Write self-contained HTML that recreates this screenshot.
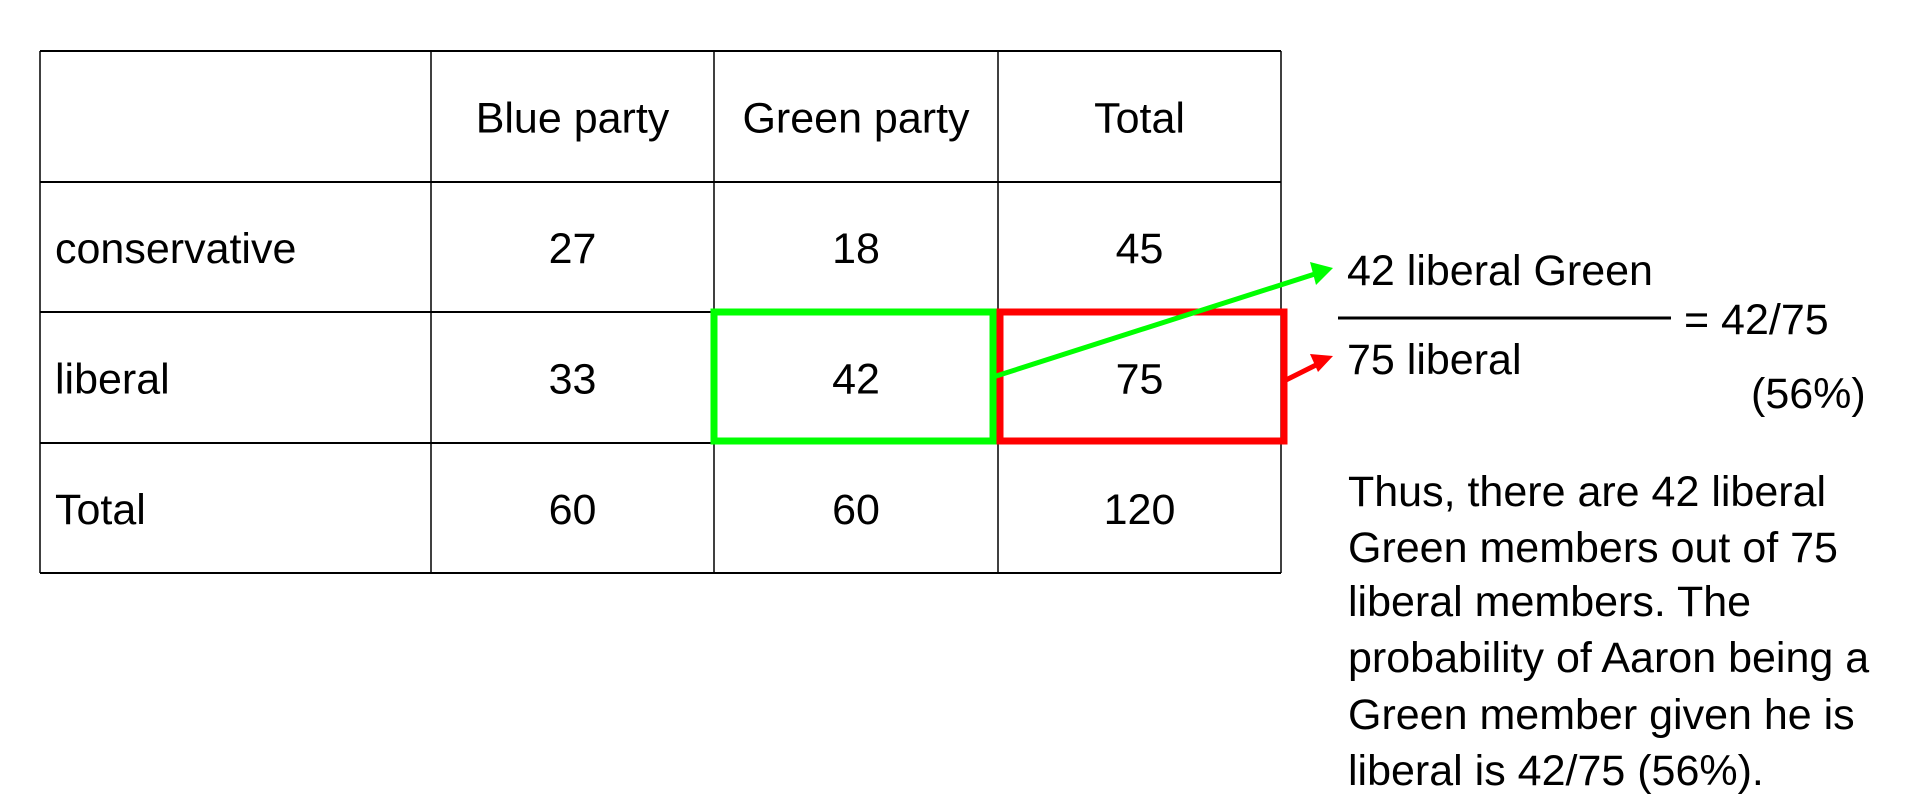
<!DOCTYPE html>
<html><head><meta charset="utf-8"><style>
html,body{margin:0;padding:0;background:#fff;width:1920px;height:800px;overflow:hidden}
svg{position:absolute;left:0;top:0}
text{font-family:"Liberation Sans",sans-serif;font-size:43px;fill:#000}
</style></head><body>
<svg id="s" width="1920" height="800">
<g id="tbl"></g>
<rect x="714" y="312" width="279" height="129" fill="none" stroke="#00ff00" stroke-width="7"/>
<rect x="1000" y="312" width="284" height="129" fill="none" stroke="#ff0000" stroke-width="7"/>
<line x1="993" y1="377" x2="1318" y2="273" stroke="#00ff00" stroke-width="5"/>
<polygon points="1333,268 1310,262 1316,285" fill="#00ff00"/>
<line x1="1286" y1="380" x2="1318" y2="364" stroke="#ff0000" stroke-width="5"/>
<polygon points="1333,356 1310,354 1318,372" fill="#ff0000"/>
<text x="1347" y="285">42 liberal Green</text>
<line x1="1338" y1="318" x2="1671" y2="318" stroke="#000" stroke-width="3"/>
<text x="1684" y="334">= 42/75</text>
<text x="1347" y="374">75 liberal</text>
<text x="1751" y="408">(56%)</text>
<g>
<text x="1348" y="506">Thus, there are 42 liberal</text>
<text x="1348" y="562">Green members out of 75</text>
<text x="1348" y="616">liberal members. The</text>
<text x="1348" y="672">probability of Aaron being a</text>
<text x="1348" y="729">Green member given he is</text>
<text x="1348" y="785">liberal is 42/75 (56%).</text>
</g>
</svg>
<script>
const headers = ["", "Blue party", "Green party", "Total"];
const rowLabels = ["conservative", "liberal", "Total"];
const blueVals = [27, 33, 60];
const greenVals = [18, 42, 60];
const totalVals = [45, 75, 120];
const NS="http://www.w3.org/2000/svg";
const g=document.getElementById('tbl');
const colX=[40,431,714,998,1281];
const rowY=[51,182,312,443,573];
function mk(t,a){const e=document.createElementNS(NS,t);for(const k in a)e.setAttribute(k,a[k]);g.appendChild(e);return e;}
function cellText(txt,c,r,left,name){
  const y=(rowY[r]+rowY[r+1])/2+16;
  const e=left?mk('text',{x:colX[c]+15,y:y}):mk('text',{x:(colX[c]+colX[c+1])/2,y:y,'text-anchor':'middle'});
  e.textContent=txt;
  
  
}
colX.forEach((x,i)=>{const l=mk('line',{x1:x,y1:rowY[0],x2:x,y2:rowY[4],stroke:'#000','stroke-width':1.5});

});
rowY.forEach((y,i)=>{const l=mk('line',{x1:colX[0],y1:y,x2:colX[4],y2:y,stroke:'#000','stroke-width':2});

});
headers.forEach((h,c)=>{if(h)cellText(h,c,0,false,'column-header');});
rowLabels.forEach((lab,r)=>{
  cellText(lab,0,r+1,true,'row-label');
  cellText(String(blueVals[r]),1,r+1,false,'blue-party-value');
  cellText(String(greenVals[r]),2,r+1,false,'green-party-value');
  cellText(String(totalVals[r]),3,r+1,false,'total-value');
});
</script>
</body></html>
